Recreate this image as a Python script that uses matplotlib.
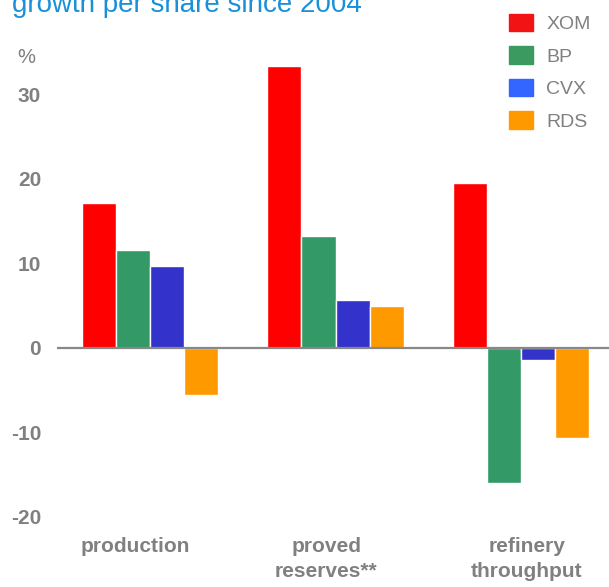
import numpy as np
import matplotlib
matplotlib.use("Agg")
import matplotlib.pyplot as plt
from matplotlib.patches import Patch

plt.rcParams['font.family'] = ['Liberation Sans', 'DejaVu Sans']

categories = ['production', 'proved\nreserves**', 'refinery\nthroughput']
companies = ['XOM', 'BP', 'CVX', 'RDS']
xom = [17.2, 33.4, 19.5]
bp = [11.6, 13.3, -16.0]
cvx = [9.7, 5.7, -1.4]
rds = [-5.6, 5.0, -10.6]
yticks = [-20, -10, 0, 10, 20, 30]

bar_colors = ['#ff0000', '#339966', '#3333cc', '#ff9900']
legend_colors = ['#f21414', '#3a9a60', '#3366ff', '#ff9900']
gray = '#808080'

W, H = 609, 587
fig = plt.figure(figsize=(W / 100, H / 100), dpi=100)
# axes spans pixel x 57..609, y 40..530
ax = fig.add_axes([57 / W, 1 - 530 / H, 1 - 57 / W, 490 / H])

x = np.arange(len(categories))
width = 0.184
series = [xom, bp, cvx, rds]
for i, vals in enumerate(series):
    ax.bar(x + (i - 1.5) * width, vals, width, color=bar_colors[i],
           edgecolor='white', linewidth=1, zorder=2)

ax.axhline(0, color='#888888', linewidth=1.6, zorder=3)
ax.set_xlim(-0.501, 2.474)
ax.set_ylim(-21.54, 36.45)

for s in ax.spines.values():
    s.set_visible(False)
ax.set_yticks(yticks)
ax.set_yticklabels([str(t) for t in yticks], fontweight='bold', color=gray, fontsize=15)
ax.tick_params(axis='y', length=0, pad=11.5)
# category labels sit a little off the group centres in the original
ax.set_xticks(x + np.array([-0.081, -0.049, 0.032]))
ax.set_xticklabels(categories, fontweight='bold', color=gray, fontsize=15,
                   linespacing=1.4, va='top')
ax.tick_params(axis='x', length=0, pad=5)

fig.text(17 / W, 1 - 63 / H, '%', color=gray, fontsize=14.5, ha='left', va='baseline')
fig.text(12 / W, 1 - 12 / H, 'growth per share since 2004', color='#1a90d8',
         fontsize=20, ha='left', va='baseline')

handles = [Patch(facecolor=c, edgecolor=c) for c in legend_colors]
fig.legend(handles, companies, loc='upper left', bbox_to_anchor=(493 / W, 1 + 2 / H),
           frameon=False, fontsize=14, handlelength=1.25, handleheight=1.0,
           labelspacing=0.68, handletextpad=0.7, labelcolor=gray, borderpad=0.3)

fig.savefig('out.png', dpi=100)
